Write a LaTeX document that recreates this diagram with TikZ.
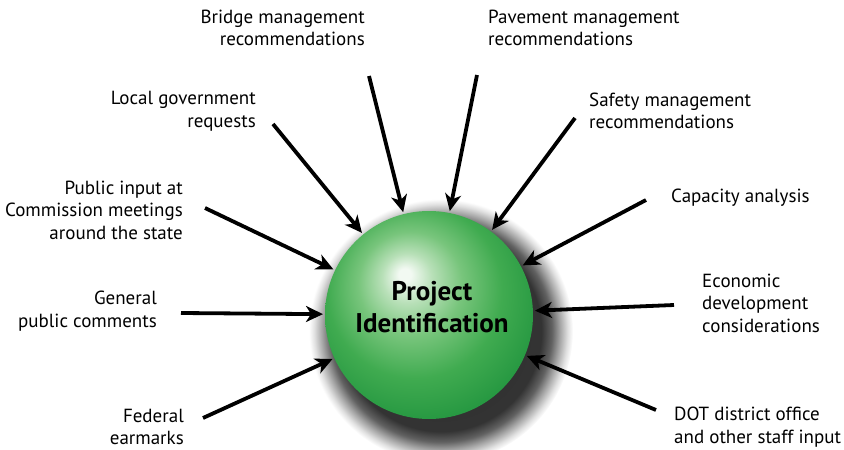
\documentclass[tikz,border=0pt]{standalone}
\usepackage{fontspec}
\setmainfont{PT Sans}
\usetikzlibrary{arrows.meta}
\definecolor{gdark}{HTML}{22953F}
\definecolor{gmid}{HTML}{40AB50}
\definecolor{glight}{HTML}{78C57C}
\definecolor{gpale}{HTML}{B8E0B8}
\definecolor{ghi}{HTML}{F2F9F2}
\pgfdeclareradialshading{sphereshade}{\pgfpoint{-6bp}{10bp}}{%
  color(0bp)=(ghi); color(1.5bp)=(ghi); color(6bp)=(gpale); color(12.5bp)=(glight);
  color(21bp)=(gmid); color(31bp)=(gdark); color(50bp)=(gdark)}
\pgfdeclareradialshading{shadowshade}{\pgfpoint{0bp}{0bp}}{%
  color(0bp)=(black!82); color(19bp)=(black!80); color(21bp)=(black!62);
  color(22.5bp)=(black!36); color(24bp)=(black!12); color(25bp)=(white); color(50bp)=(white)}
\begin{document}
\begin{tikzpicture}[x=1pt,y=-1pt,
  lbl/.style={font=\fontsize{19}{22.5}\selectfont, inner sep=0pt},
  lblr/.style={lbl, align=right},
  lbll/.style={lbl, align=left},
  feed/.style={line width=3.8pt, -{Stealth[length=17pt,width=16pt,inset=5pt]}}]
\useasboundingbox (0,0) rectangle (844,450);
% shadow
\shade[shading=shadowshade] (441,331) circle[radius=132];
% sphere
\node[circle, minimum size=208pt, inner sep=0pt, outer sep=2pt,
      shading=sphereshade] (ball) at (429,315) {};
\node[align=center, inner sep=0pt,
      font=\bfseries\fontsize{27}{32}\selectfont] (title) at (432,307) {Project\\Identification};
% labels
\node[lblr, anchor=east] (bridge) at (365,28) {Bridge management\\recommendations};
\node[lbll, anchor=west] (pave) at (488,28) {Pavement management\\recommendations};
\node[lblr, anchor=east] (local) at (256,111) {Local government\\requests};
\node[lbll, anchor=west] (safety) at (589,111) {Safety management\\recommendations};
\node[lblr, anchor=east] (public) at (183,210) {Public input at\\Commission meetings\\around the state};
\node[lbll, anchor=west] (capacity) at (671,198) {Capacity analysis};
\node[lblr, anchor=east] (general) at (157,311) {General\\public comments};
\node[lbll, anchor=west] (econ) at (702,303) {Economic\\development\\considerations};
\node[lblr, anchor=east] (federal) at (184,427) {Federal\\earmarks};
\node[lbll, anchor=west] (dot) at (674,427) {DOT district office\\and other staff input};
% arrow tails
\coordinate (tBridge) at (369,76);
\coordinate (tPave) at (477,75);
\coordinate (tLocal) at (273,124);
\coordinate (tSafety) at (575,118);
\coordinate (tPublic) at (205,208);
\coordinate (tCap) at (646,200);
\coordinate (tGen) at (181,313);
\coordinate (tEcon) at (674,305);
\coordinate (tFed) at (203,418);
\coordinate (tDot) at (656,410);
\foreach \t in {tBridge,tPave,tLocal,tSafety,tPublic,tCap,tGen,tEcon,tFed,tDot}
  \draw[feed] (\t) -- (ball);
\end{tikzpicture}
\end{document}
